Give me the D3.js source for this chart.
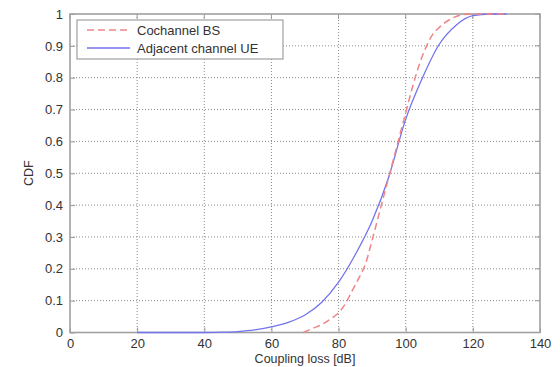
<!DOCTYPE html>
<html>
<head>
<meta charset="utf-8">
<script src="https://cdn.jsdelivr.net/npm/d3@7"></script>
<style>
  html, body { margin: 0; padding: 0; background: #fff; }
  svg { display: block; }
  text { font-family: "Liberation Sans", Arial, sans-serif; fill: #333; }
</style>
</head>
<body>
<svg id="chart" width="560" height="367"></svg>
<script>
// ---- data ----
const xTicks = [0, 20, 40, 60, 80, 100, 120, 140];
const yTicks = [0, 0.1, 0.2, 0.3, 0.4, 0.5, 0.6, 0.7, 0.8, 0.9, 1];
const yTickLabels = ["0", "0.1", "0.2", "0.3", "0.4", "0.5", "0.6", "0.7", "0.8", "0.9", "1"];

const cochannelX = [69.5, 72, 75, 78, 80, 82, 84, 86, 88, 90, 92, 95, 98, 100, 102, 104, 106, 108, 110, 113, 117, 120, 130];
const cochannelY = [0.0, 0.012, 0.025, 0.045, 0.062, 0.09, 0.13, 0.17, 0.215, 0.29, 0.37, 0.49, 0.61, 0.69, 0.77, 0.84, 0.895, 0.935, 0.958, 0.982, 0.998, 1.0, 1.0];

const adjacentX = [20, 30, 40, 45, 50, 55, 60, 65, 70, 75, 80, 85, 90, 95, 100, 105, 110, 115, 120, 125, 130];
const adjacentY = [0, 0, 0, 0.001, 0.003, 0.008, 0.018, 0.032, 0.055, 0.095, 0.158, 0.245, 0.35, 0.49, 0.67, 0.8, 0.905, 0.965, 0.995, 1.0, 1.0];

const seriesNames = ["Cochannel BS", "Adjacent channel UE"];

// ---- layout ----
const svg = d3.select("#chart");
const L = 70, R = 540, T = 14, B = 332.5;
const x = d3.scaleLinear().domain([0, 140]).range([L, R]);
const y = d3.scaleLinear().domain([0, 1]).range([B, T]);

// grid
const grid = svg.append("g");
grid.selectAll("line.gx").data(xTicks.slice(1, -1)).enter().append("line")
  .attr("x1", d => x(d)).attr("x2", d => x(d)).attr("y1", T).attr("y2", B)
  .attr("stroke", "#8a8a8a").attr("stroke-width", 1).attr("stroke-dasharray", "1,2");
grid.selectAll("line.gy").data(yTicks.slice(1, -1)).enter().append("line")
  .attr("y1", d => y(d)).attr("y2", d => y(d)).attr("x1", L).attr("x2", R)
  .attr("stroke", "#8a8a8a").attr("stroke-width", 1).attr("stroke-dasharray", "1,2");

// axes via d3
const xAxis = d3.axisBottom(x).tickValues(xTicks).tickSize(-5).tickPadding(6).tickFormat(d3.format("d"));
const yAxis = d3.axisLeft(y).tickValues(yTicks).tickSize(-5).tickPadding(7).tickFormat((d, i) => yTickLabels[i]);

const gx = svg.append("g").attr("transform", `translate(0,${B})`).call(xAxis);
const gy = svg.append("g").attr("transform", `translate(${L},0)`).call(yAxis);
[gx, gy].forEach(g => {
  g.select(".domain").remove();
  g.selectAll(".tick line").attr("stroke", "#999");
  g.selectAll(".tick text").attr("font-size", 13).attr("fill", "#333")
    .style("font-family", "Liberation Sans, Arial, sans-serif");
});
// top/right ticks
svg.append("g").selectAll("line").data(xTicks).enter().append("line")
  .attr("x1", d => x(d)).attr("x2", d => x(d)).attr("y1", T).attr("y2", T + 5).attr("stroke", "#999");
svg.append("g").selectAll("line").data(yTicks).enter().append("line")
  .attr("y1", d => y(d)).attr("y2", d => y(d)).attr("x1", R).attr("x2", R - 5).attr("stroke", "#999");

// box
svg.append("rect").attr("x", L).attr("y", T).attr("width", R - L).attr("height", B - T)
  .attr("fill", "none").attr("stroke", "#a0a0a0").attr("stroke-width", 1.6);

// lines
const line = d3.line().x(d => x(d[0])).y(d => y(d[1])).curve(d3.curveMonotoneX);
const cochannel = cochannelX.map((v, i) => [v, cochannelY[i]]);
const adjacent = adjacentX.map((v, i) => [v, adjacentY[i]]);

svg.append("path").datum(adjacent).attr("d", line)
  .attr("fill", "none").attr("stroke", "#7373ee").attr("stroke-width", 1.3);
svg.append("path").datum(cochannel).attr("d", line)
  .attr("fill", "none").attr("stroke", "#f08585").attr("stroke-width", 1.5)
  .attr("stroke-dasharray", "7,4");

// legend
const lg = svg.append("g");
lg.append("rect").attr("x", 77).attr("y", 20).attr("width", 206).attr("height", 39)
  .attr("fill", "#fff").attr("stroke", "#a0a0a0").attr("stroke-width", 1.2);
lg.append("line").attr("x1", 87).attr("x2", 130).attr("y1", 30).attr("y2", 30)
  .attr("stroke", "#f08585").attr("stroke-width", 1.5).attr("stroke-dasharray", "7,4");
lg.append("line").attr("x1", 87).attr("x2", 130).attr("y1", 48).attr("y2", 48)
  .attr("stroke", "#7373ee").attr("stroke-width", 1.3);
lg.append("text").attr("x", 137).attr("y", 35).attr("font-size", 13).text(seriesNames[0]);
lg.append("text").attr("x", 137).attr("y", 53).attr("font-size", 13).text(seriesNames[1]);

// axis labels
svg.append("text").attr("x", (L + R) / 2).attr("y", 363).attr("text-anchor", "middle")
  .attr("font-size", 12.5).text("Coupling loss [dB]");
svg.append("text").attr("transform", `translate(33,${(T + B) / 2}) rotate(-90)`)
  .attr("text-anchor", "middle").attr("font-size", 12.5).text("CDF");
</script>
</body>
</html>
